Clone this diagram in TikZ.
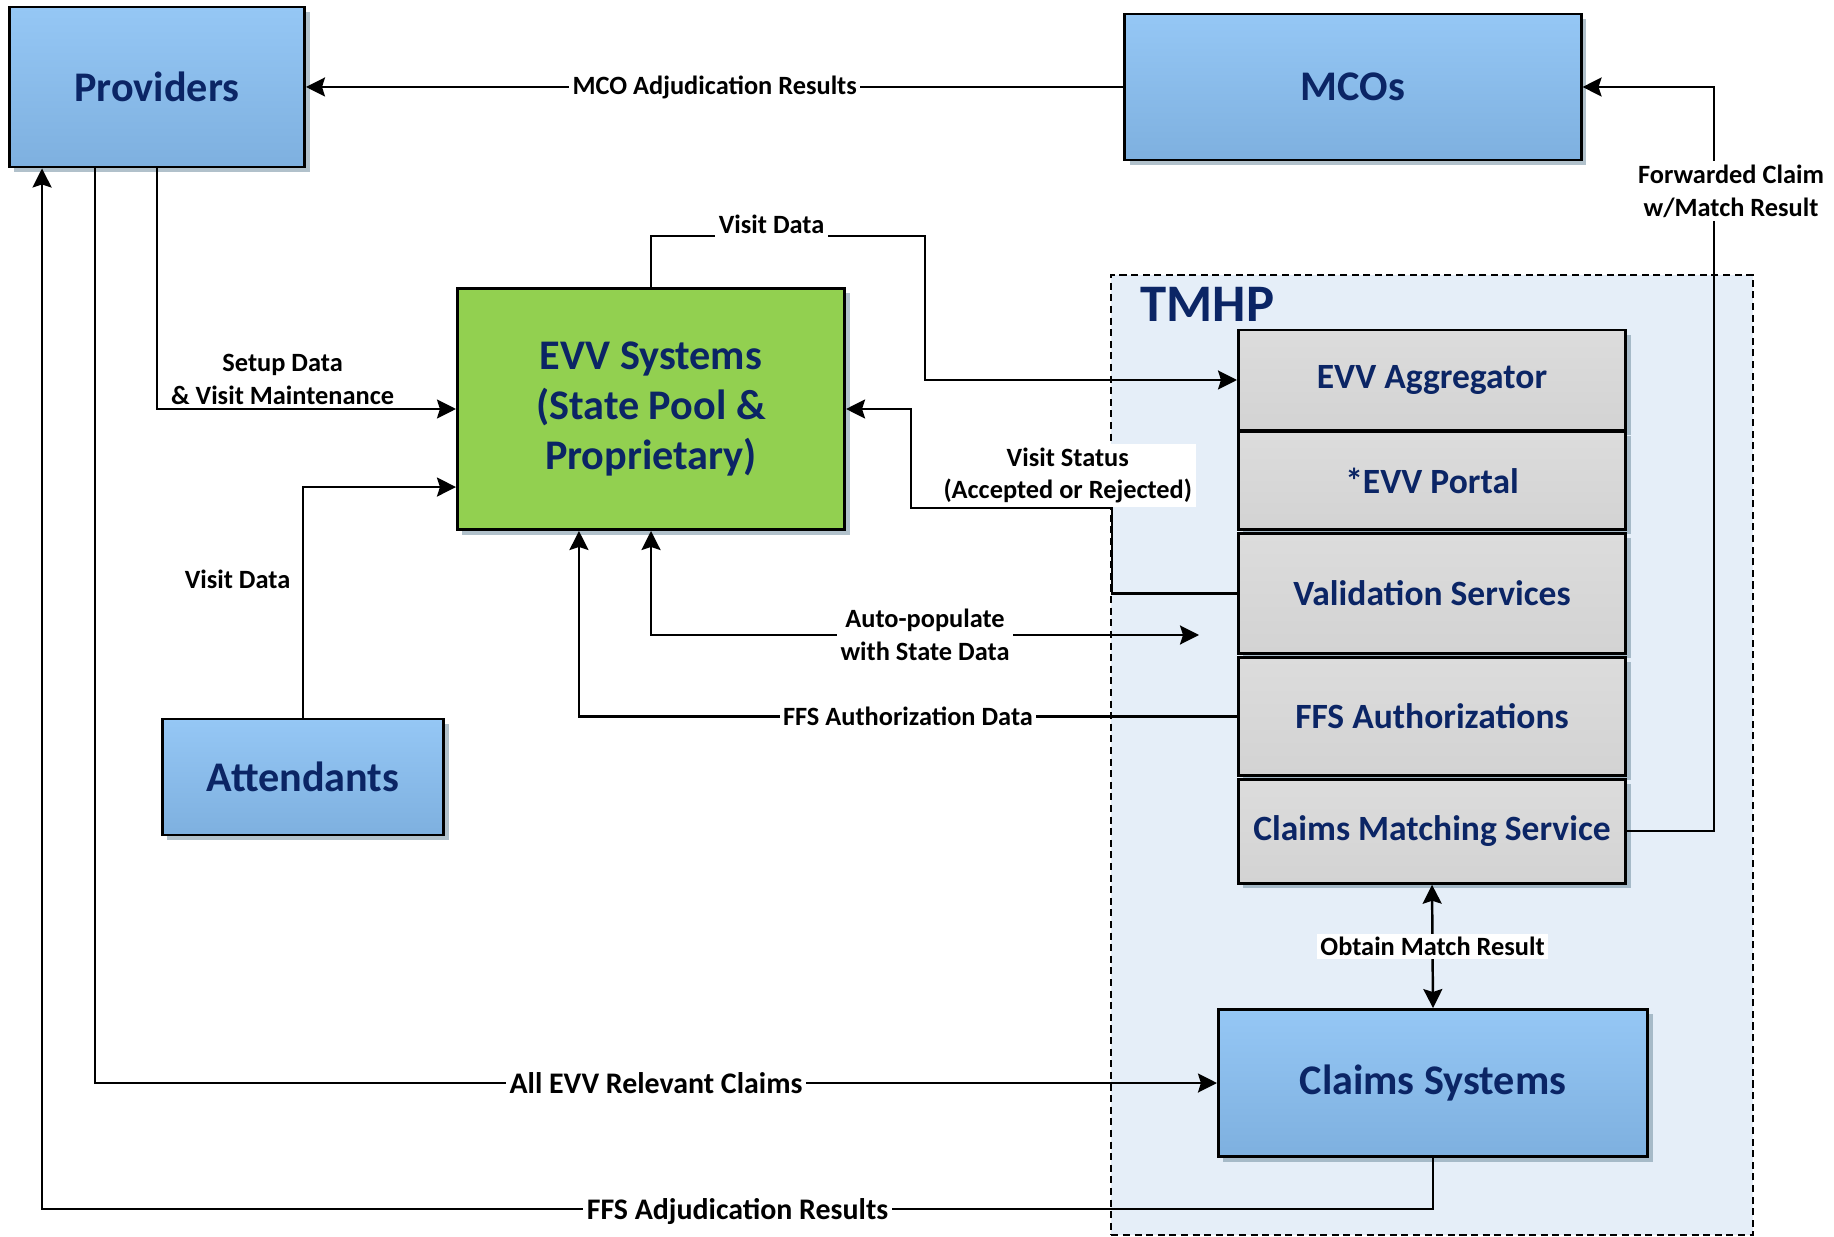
\documentclass[tikz,border=0pt]{standalone}
\usepackage{fontspec}
\setmainfont{Carlito}
\usetikzlibrary{positioning,arrows.meta,shadows}
\definecolor{navy}{HTML}{0B2565}
\definecolor{boxtop}{HTML}{95C7F5}
\definecolor{boxbot}{HTML}{7EB0DF}
\definecolor{evvgreen}{HTML}{92D050}
\definecolor{graytop}{HTML}{DCDCDC}
\definecolor{graybot}{HTML}{D3D3D3}
\definecolor{tmhpfill}{HTML}{E5EEF8}
\definecolor{shadowcol}{HTML}{7D98A8}

\begin{document}
\begin{tikzpicture}[x=0.01cm, y=-0.01cm,
  boxshadow/.style={drop shadow={shadow xshift=0.05cm, shadow yshift=-0.05cm, fill=shadowcol, opacity=0.6}},
  bluebox/.style={draw, line width=0.8pt, top color=boxtop, bottom color=boxbot, boxshadow, text=navy, font=\fontsize{12}{14.2}\selectfont\bfseries},
  evvbox/.style={draw, line width=0.8pt, fill=evvgreen, boxshadow, text=navy, align=center, font=\fontsize{12}{14.2}\selectfont\bfseries},
  graybox/.style={draw, line width=0.8pt, top color=graytop, bottom color=graybot, boxshadow, minimum width=3.87cm, inner xsep=2pt, text=navy, font=\fontsize{10.1}{12}\selectfont\bfseries},
  flow/.style={line width=0.7pt, -{Stealth[length=0.19cm, width=0.19cm, inset=0.03cm]}},
  flowboth/.style={line width=0.7pt, {Stealth[length=0.19cm, width=0.19cm, inset=0.03cm]}-{Stealth[length=0.19cm, width=0.19cm, inset=0.03cm]}},
  lbl/.style={fill=white, inner sep=1pt, align=center, font=\fontsize{7.5}{9.3}\selectfont\bfseries},
  biglbl/.style={lbl, font=\fontsize{8.5}{10}\selectfont\bfseries}]
\useasboundingbox (0,0) rectangle (1834,1237);

\node (tmhp) [draw, line width=0.6pt, dash pattern=on 2pt off 1.3pt, fill=tmhpfill, minimum width=6.41cm, minimum height=9.6cm] at (1432,755) {};
\node (tmhplabel) [anchor=base west, inner sep=0pt, text=navy, font=\fontsize{15}{18}\selectfont\bfseries] at (1140,322) {TMHP};

\node (providers) [bluebox, minimum width=2.95cm, minimum height=1.6cm] at (157,87) {Providers};
\node (mcos) [bluebox, minimum width=4.56cm, minimum height=1.46cm] at (1353,87) {MCOs};
\node (evv) [evvbox, minimum width=3.87cm, minimum height=2.41cm] at (651,409) {EVV Systems\\(State Pool \&\\Proprietary)};
\node (attendants) [bluebox, minimum width=2.81cm, minimum height=1.16cm] at (303,777) {Attendants};

\node (aggregator) [graybox, minimum height=1.0cm] at (1432,380) {EVV Aggregator};
\node (portal) [graybox, minimum height=0.98cm, below=-0.4pt of aggregator] {*EVV Portal};
\node (validation) [graybox, minimum height=1.2cm, below=0.3pt of portal] {Validation Services};
\node (ffs) [graybox, minimum height=1.18cm, below=0.3pt of validation] {FFS Authorizations};
\node (cms) [graybox, minimum height=1.04cm, below=0.3pt of ffs] {Claims Matching Service};
\node (claimsys) [bluebox, minimum width=4.29cm, minimum height=1.47cm] at (1433,1083) {Claims Systems};

\coordinate (autoend) at (1199,635);

\draw[flow] (mcos.west) -- node[lbl] {MCO Adjudication Results} (providers.east);
\draw[flow] (providers.south) |- node[lbl, above, pos=0.71] {Setup Data\\\& Visit Maintenance} (evv.west);
\draw[flow] (attendants.north) |- node[lbl, left, pos=0.3, xshift=-0.08cm] {Visit Data} ([yshift=-0.78cm]evv.west);
\draw[flow] (evv.north) |- node[lbl, pos=0.72, yshift=0.12cm] {Visit Data} (925,236) |- (aggregator.west);
\draw[flow] (validation.west) -| (1112,508) -| node[lbl, pos=0.11, anchor=south] {Visit Status\\(Accepted or Rejected)} (911,409) -- (evv.east);
\draw[flowboth] (evv.south) |- node[lbl, pos=0.75] {Auto-populate\\with State Data} (autoend);
\draw[flow] (ffs.west) -| node[lbl, pos=0.25] {FFS Authorization Data} ([xshift=-0.72cm]evv.south);
\draw[flow] (cms.east) -- ++(87,0) |- node[lbl, pos=0.43, xshift=0.17cm] {Forwarded Claim\\w/Match Result} (mcos.east);
\draw[flowboth] (cms.south) -- node[lbl] {Obtain Match Result} (claimsys.north);
\draw[flow] ([xshift=0.87cm]providers.south west) |- node[biglbl, pos=0.75] {All EVV Relevant Claims} (claimsys.west);
\draw[flow] (claimsys.south) -- ++(0,51) -| node[biglbl, pos=0.25, yshift=-0.03cm] {FFS Adjudication Results} ([xshift=0.34cm]providers.south west);
\end{tikzpicture}
\end{document}
